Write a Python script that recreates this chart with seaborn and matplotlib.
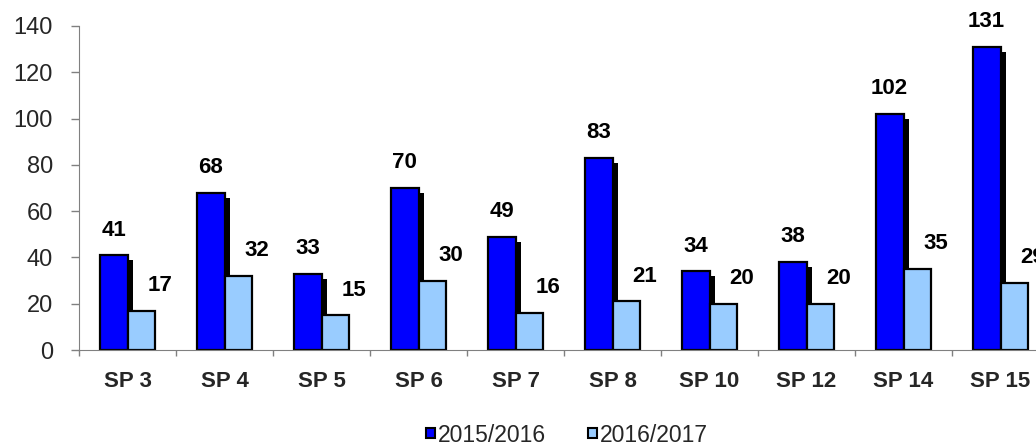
import pandas as pd
import matplotlib
matplotlib.use('Agg')
import matplotlib.pyplot as plt
import matplotlib.patheffects as pe
import seaborn as sns

categorias = ['SP 3', 'SP 4', 'SP 5', 'SP 6', 'SP 7', 'SP 8', 'SP 10', 'SP 12', 'SP 14', 'SP 15']
valores_2015 = [41, 68, 33, 70, 49, 83, 34, 38, 102, 131]
valores_2016 = [17, 32, 15, 30, 16, 21, 20, 20, 35, 29]
series = ['2015/2016', '2016/2017']
cores = ['#0000FF', '#99CCFF']

tabela = pd.DataFrame({
    'cat': categorias * 2,
    'valor': valores_2015 + valores_2016,
    'serie': [series[0]] * len(categorias) + [series[1]] * len(categorias),
})

sns.set_style('white')
plt.rcParams['font.family'] = ['Liberation Sans', 'DejaVu Sans']

fig = plt.figure(figsize=(10.36, 4.48), dpi=100)
ax = fig.add_axes([79 / 1036, 98 / 448, 970 / 1036, 324 / 448])

sns.barplot(data=tabela, x='cat', y='valor', hue='serie', palette=cores,
            width=0.57, edgecolor='black', linewidth=1.6, saturation=1,
            ax=ax, legend=True)

# sombra preta nas barras escuras
n = len(categorias)
for p in ax.patches[:n]:
    p.set_path_effects([pe.SimplePatchShadow(offset=(4.3, -3.6), shadow_rgbFace='black', alpha=1),
                        pe.Normal()])

# rótulos
for i, p in enumerate(ax.patches[:2 * n]):
    x = p.get_x() + p.get_width() / 2
    h = p.get_height()
    dx = 0 if i < n else 13.5
    ax.annotate(f'{int(round(h))}', (x, h), xytext=(dx, 10.5), textcoords='offset points',
                ha='center', va='bottom', fontsize=16, fontweight='bold', color='black',
                annotation_clip=False)

ax.set_ylim(0, 140)
ax.set_xlim(-0.5, n - 0.5)
ax.set_yticks(range(0, 141, 20))
ax.set_xlabel('')
ax.set_ylabel('')
ax.tick_params(axis='y', labelsize=17, length=5.8, width=1, color='#808080', direction='out', pad=13, left=True)
ax.set_xticks([i - 0.5 for i in range(n + 1)], minor=True)
ax.tick_params(axis='x', which='major', length=0, pad=15)
ax.tick_params(axis='x', which='minor', length=4.5, width=1, color='#808080', direction='out', bottom=True)
for lab in ax.get_xticklabels():
    lab.set_fontweight('bold')
    lab.set_fontsize(16)

sns.despine(ax=ax, top=True, right=True)
ax.spines['left'].set_color('#808080')
ax.spines['bottom'].set_color('#808080')

handles, labels = ax.get_legend_handles_labels()
ax.get_legend().remove()
for h in handles:
    h.set_linewidth(1.5)
fig.legend(handles, labels, loc='center', bbox_to_anchor=(567 / 1036, 13 / 448), ncol=2,
           frameon=False, fontsize=16.5, handlelength=0.4, handleheight=0.3,
           handletextpad=0.15, columnspacing=1.8, borderpad=0)

fig.savefig('out.png', dpi=100)
